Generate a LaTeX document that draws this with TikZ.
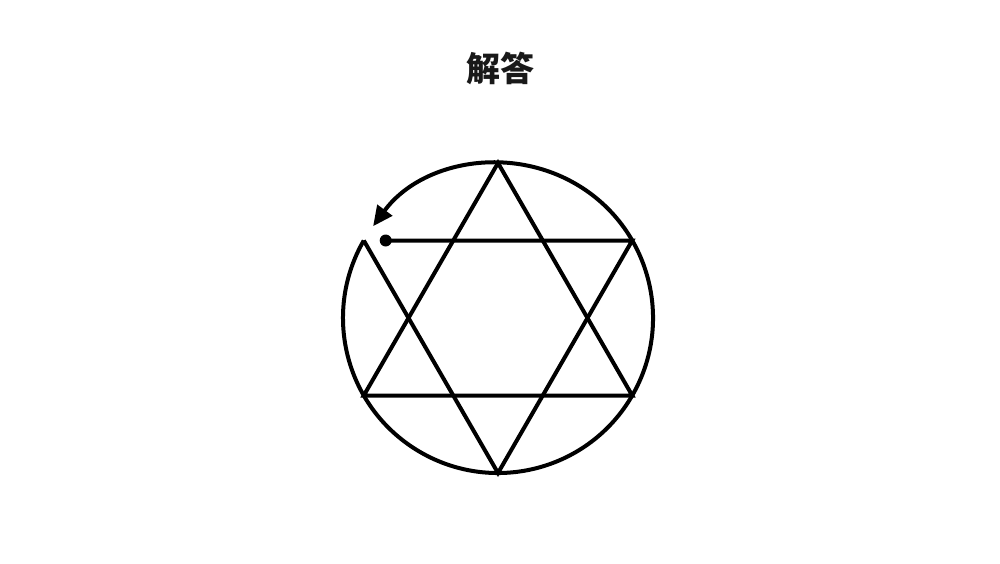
\documentclass[tikz,border=0pt]{standalone}
\usepackage{fontspec}
\newfontfamily\cjk{Noto Sans CJK SC}
\usetikzlibrary{arrows.meta}
\tikzset{
  stroke/.style={line width=4pt, draw=black},
  titletext/.style={font=\cjk\bfseries\fontsize{34}{40}\selectfont, text=black!90, inner sep=0pt},
  startdot/.style={circle, fill=black, minimum size=12pt, inner sep=0pt},
}
\begin{document}
\begin{tikzpicture}[x=1pt,y=1pt]
\useasboundingbox[fill=white] (0,0) rectangle (1000,563);
\node[titletext] (title) at (500,495) {解答};
\coordinate (C) at (498,245);
\coordinate (V90) at (498,400);
\coordinate (V210) at (363.77,167.5);
\coordinate (V330) at (632.23,167.5);
\coordinate (V30) at (632.23,322.5);
\coordinate (V150) at (363.77,322.5);
\coordinate (V270) at (498,90);
\node[startdot] (dot) at (385.7,322.5) {};
% circle with arrow (one-stroke path end)
\draw[stroke, -{Triangle[length=20pt,width=18pt]}] (V150) arc[start angle=150, end angle=503.7, radius=155pt];
% upward triangle
\draw[stroke] (V90) -- (V210) -- (V330) -- cycle;
% downward triangle, open at the start point
\draw[stroke] (dot.center) -- (V30) -- (V270) -- (V150);
\end{tikzpicture}
\end{document}
